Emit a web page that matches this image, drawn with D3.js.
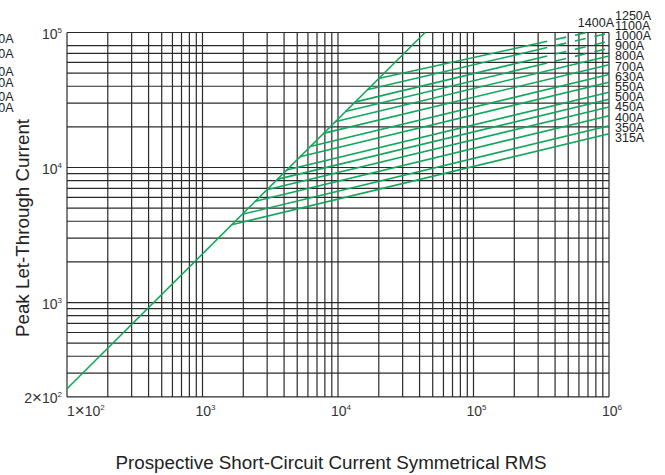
<!DOCTYPE html>
<html>
<head>
<meta charset="utf-8">
<script src="https://cdn.jsdelivr.net/npm/d3@7"></script>
<style>
  body { margin: 0; background: #fff; }
  svg { font-family: "Liberation Sans", Arial, sans-serif; }
</style>
</head>
<body>
<div class="chart"></div>
<script>
// fuse ratings and their cut-off lines (prospective A -> peak A)
let ratings = ["315A", "350A", "400A", "450A", "500A", "550A", "630A", "700A", "800A", "900A", "1000A", "1100A", "1250A", "1400A"];
let startI  = [1640, 1960, 2450, 2980, 3550, 4170, 5230, 6230, 7790, 9470, 11300, 13260, 16400, 19840];
let startIp = [3770, 4500, 5630, 6850, 8170, 9590, 12000, 14300, 17900, 21800, 26000, 30500, 37700, 45600];
let endI    = [1e6, 1e6, 1e6, 1e6, 1e6, 1e6, 1e6, 1e6, 1e6, 1e6, 1e6, 1e6, 1e6, 690000];
let endIp   = [17800, 20400, 24200, 28100, 32000, 36100, 42800, 48900, 57700, 67000, 76500, 86200, 99000, 100000];
let dashFrom = [null, null, null, null, null, null, null, null, null, null, 350000, 350000, 350000, 350000];

// unlimited peak (diagonal)
let peakI  = [100, 43900];
let peakIp = [230, 100000];

// grid
let xGrid = [100, 200, 300, 400, 500, 600, 700, 800, 900,
             1000, 2000, 3000, 4000, 5000, 6000, 7000, 8000, 9000,
             10000, 20000, 30000, 40000, 50000, 60000, 70000, 80000, 90000,
             100000, 200000, 300000, 400000, 500000, 600000, 700000, 800000, 900000, 1000000];
let yGrid = [200, 300, 400, 500, 600, 700, 800, 900,
             1000, 2000, 3000, 4000, 5000, 6000, 7000, 8000, 9000,
             10000, 20000, 30000, 40000, 50000, 60000, 70000, 80000, 100000];

let xTicks = [[100, "1", "10", "2"], [1000, "", "10", "3"], [10000, "", "10", "4"], [100000, "", "10", "5"], [1000000, "", "10", "6"]];
let yTicks = [[200, "2", "10", "2"], [1000, "", "10", "3"], [10000, "", "10", "4"], [100000, "", "10", "5"]];

// clipped labels from neighbouring figure
let leftLabels = ["1250A", "1100A", "1000A", "900A", "800A", "700A"];
let leftLabelY = [38, 53, 71, 82, 96, 107];

let width = 665, height = 475;
let green = "#10a85a";

let svg = d3.select(".chart").append("svg")
    .attr("width", width)
    .attr("height", height);

let x = d3.scaleLog().domain([100, 1e6]).range([67, 609]);
let y = d3.scaleLog().domain([200, 1e5]).range([396.9, 32.5]);

// grid lines
svg.append("g").selectAll("line")
    .data(xGrid)
    .enter().append("line")
    .attr("x1", d => x(d)).attr("x2", d => x(d))
    .attr("y1", y(1e5)).attr("y2", y(200))
    .style("stroke", "#2a2a2a")
    .style("stroke-width", 1.2);

svg.append("g").selectAll("line")
    .data(yGrid)
    .enter().append("line")
    .attr("x1", x(100)).attr("x2", x(1e6))
    .attr("y1", d => y(d)).attr("y2", d => y(d))
    .style("stroke", "#2a2a2a")
    .style("stroke-width", 1.2);

let line = d3.line().x(d => x(d[0])).y(d => y(d[1]));

// diagonal
svg.append("path")
    .attr("d", line([[peakI[0], peakIp[0]], [peakI[1], peakIp[1]]]))
    .style("fill", "none")
    .style("stroke", green)
    .style("stroke-width", 1.6);

// fuse lines
ratings.forEach((r, i) => {
    let a = [startI[i], startIp[i]], b = [endI[i], endIp[i]];
    let at = I => {
        let t = (Math.log(I) - Math.log(a[0])) / (Math.log(b[0]) - Math.log(a[0]));
        return [I, Math.exp(Math.log(a[1]) + t * (Math.log(b[1]) - Math.log(a[1])))];
    };
    if (dashFrom[i] === null) {
        svg.append("path")
            .attr("d", line([a, b]))
            .style("fill", "none").style("stroke", green).style("stroke-width", 1.6);
    } else {
        svg.append("path")
            .attr("d", line([a, at(dashFrom[i])]))
            .style("fill", "none").style("stroke", green).style("stroke-width", 1.6);
        svg.append("path")
            .attr("d", line([at(dashFrom[i] * 1.15), b]))
            .style("fill", "none").style("stroke", green).style("stroke-width", 1.6)
            .style("stroke-dasharray", "11,9");
    }
});

// right labels
let rightLabels = ratings.slice(0, 13).reverse();
svg.append("g").selectAll("text")
    .data(rightLabels)
    .enter().append("text")
    .attr("x", 615)
    .attr("y", (d, i) => 19.5 + i * 10.2)
    .style("font-size", "12.5px")
    .style("fill", "#222")
    .text(d => d);

svg.append("text")
    .attr("x", 614)
    .attr("y", 26.5)
    .attr("text-anchor", "end")
    .style("font-size", "12.5px")
    .style("fill", "#222")
    .text(ratings[13]);

// clipped left labels
svg.append("g").selectAll("text")
    .data(leftLabels)
    .enter().append("text")
    .attr("x", 13.5)
    .attr("y", (d, i) => leftLabelY[i] + 4.5)
    .attr("text-anchor", "end")
    .style("font-size", "12.5px")
    .style("fill", "#222")
    .text(d => d);

// tick labels: [value, mantissa, base, exponent]
function tickLabel(t, px, py, anchor) {
    let txt = svg.append("text")
        .attr("x", px).attr("y", py)
        .attr("text-anchor", anchor)
        .style("font-size", "14px")
        .style("fill", "#333");
    if (t[1]) {
        txt.append("tspan").text(t[1]);
        txt.append("tspan").style("font-size", "17px").text("\u00d7");
    }
    txt.append("tspan").text(t[2]);
    txt.append("tspan").attr("dy", -6).style("font-size", "8px").text(t[3]);
}

xTicks.forEach((t, i) => {
    if (i === 0) tickLabel(t, x(t[0]), 416, "start");
    else tickLabel(t, x(t[0]) + 3, 416, "middle");
});
yTicks.forEach(t => tickLabel(t, 62, y(t[0]) + 6.5, "end"));

// axis titles
svg.append("text")
    .attr("x", 331)
    .attr("y", 469)
    .attr("text-anchor", "middle")
    .style("font-size", "18.8px")
    .style("fill", "#222")
    .text("Prospective Short-Circuit Current Symmetrical RMS");

svg.append("text")
    .attr("transform", "translate(29,228) rotate(-90)")
    .attr("text-anchor", "middle")
    .style("font-size", "18.8px")
    .style("fill", "#222")
    .text("Peak Let-Through Current");
</script>
</body>
</html>
